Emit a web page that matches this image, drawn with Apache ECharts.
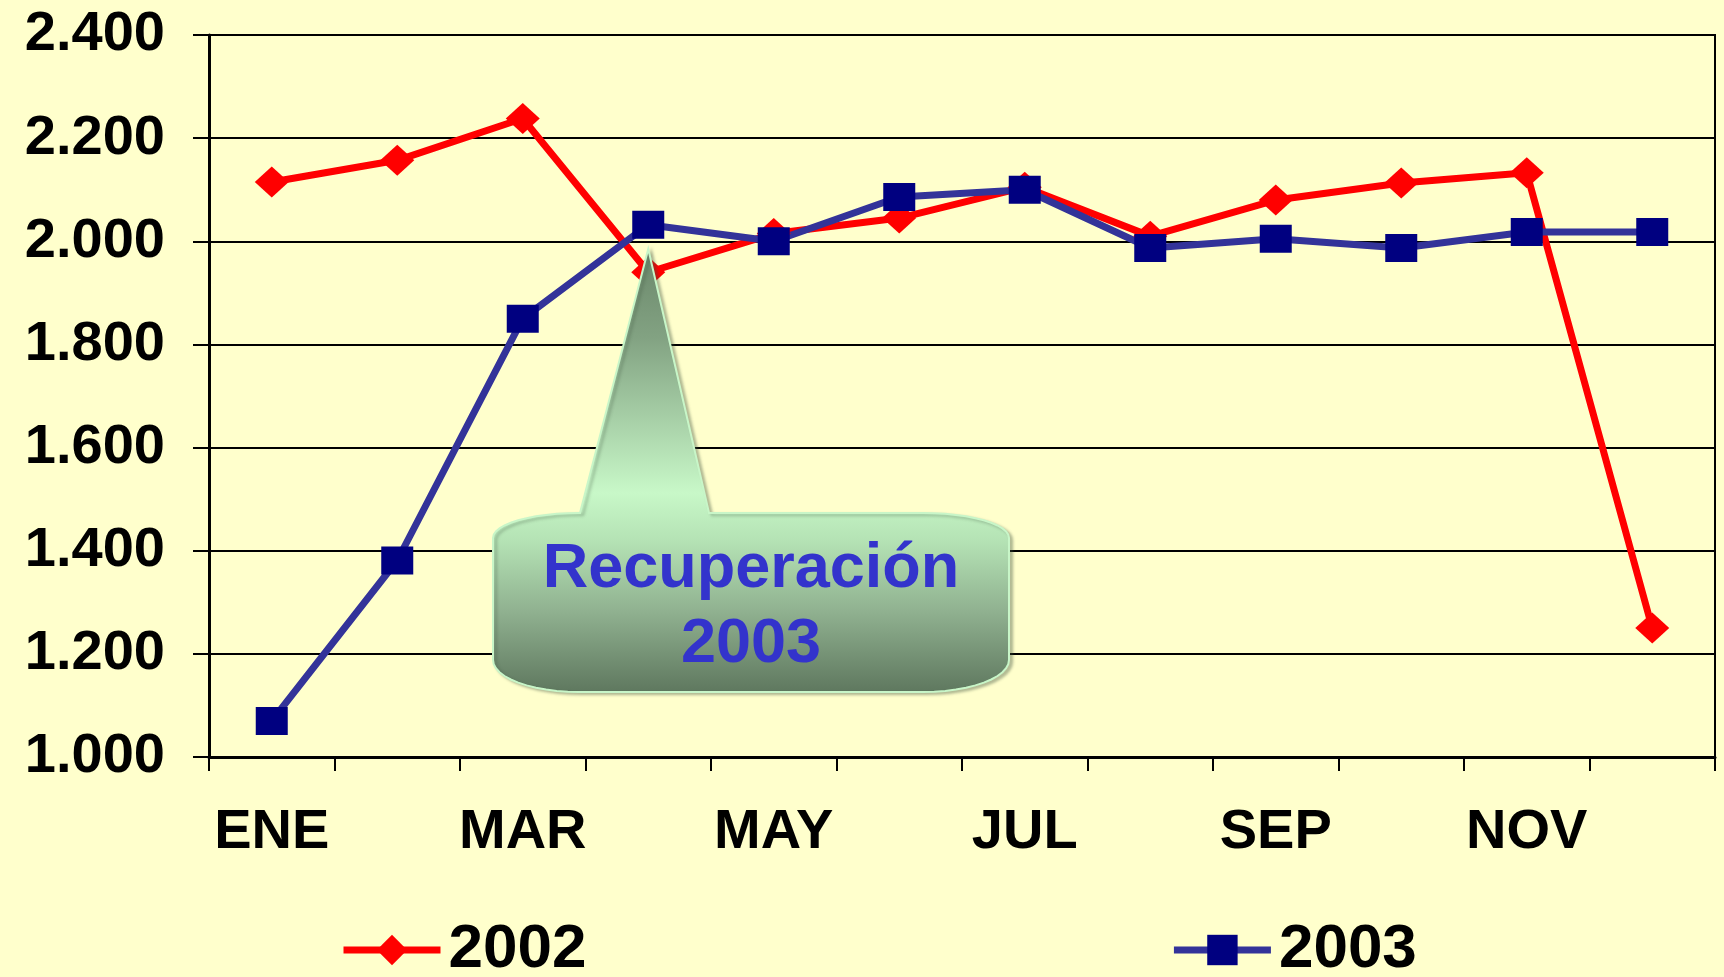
<!DOCTYPE html>
<html>
<head>
<meta charset="utf-8">
<script src="https://cdn.jsdelivr.net/npm/echarts@6/dist/echarts.min.js"></script>
<style>
  html, body { margin: 0; padding: 0; background: #FFFFCC; }
  #chart { width: 1724px; height: 977px; }
</style>
</head>
<body>
<div id="chart"></div>
<script>
const months = ['ENE', 'FEB', 'MAR', 'ABR', 'MAY', 'JUN', 'JUL', 'AGO', 'SEP', 'OCT', 'NOV', 'DIC']
const values2002 = [2115, 2157, 2238, 1940, 2015, 2045, 2105, 2010, 2080, 2113, 2133, 1250]
const values2003 = [1070, 1381, 1850, 2032, 2000, 2086, 2100, 1987, 2005, 1987, 2018, 2018]
const yTicks = { min: 1000, max: 2400, step: 200 }
const calloutText = 'Recuperación\n2003'

const font = '"Liberation Sans", Arial, sans-serif'
const chart = echarts.init(document.getElementById('chart'))

chart.setOption({
  backgroundColor: '#FFFFCC',
  animation: false,
  grid: {
    left: 209, right: 9, top: 35, bottom: 220,
    show: true, borderColor: '#000', borderWidth: 2, backgroundColor: 'transparent'
  },
  legend: {
    left: 335, top: 914,
    itemWidth: 97, itemHeight: 38, itemGap: 584,
    lineStyle: { width: 7 },
    textStyle: {
      fontFamily: font, fontWeight: 'bold', fontSize: 62, color: '#000',
      padding: [0, 0, 0, 3]
    },
    data: ['2002', '2003']
  },
  xAxis: {
    type: 'category',
    data: months,
    boundaryGap: true,
    axisLine: { lineStyle: { color: '#000', width: 3 } },
    axisTick: { show: true, interval: 0, length: 14, lineStyle: { color: '#000', width: 2 } },
    axisLabel: {
      interval: 1, margin: 48, color: '#000',
      fontFamily: font, fontWeight: 'bold', fontSize: 56
    },
    splitLine: { show: false }
  },
  yAxis: {
    type: 'value',
    min: yTicks.min, max: yTicks.max, interval: yTicks.step,
    axisLine: { show: true, lineStyle: { color: '#000', width: 3 } },
    axisTick: { show: true, length: 16, lineStyle: { color: '#000', width: 2 } },
    axisLabel: {
      margin: 44, color: '#000',
      fontFamily: font, fontWeight: 'bold', fontSize: 56,
      formatter: v => String(v).replace(/^(\d)(\d{3})$/, '$1.$2')
    },
    splitLine: { show: true, lineStyle: { color: '#000', width: 2 } }
  },
  series: [
    {
      name: '2002',
      type: 'line',
      data: values2002,
      symbol: 'diamond',
      symbolSize: [34, 31],
      lineStyle: { color: '#FF0000', width: 7 },
      itemStyle: { color: '#FF0000' }
    },
    {
      name: '2003',
      type: 'line',
      data: values2003,
      symbol: 'rect',
      symbolSize: [32, 28],
      lineStyle: { color: '#333399', width: 7 },
      itemStyle: { color: '#000080' }
    }
  ]
})

// callout "Recuperación 2003": one shape, pointer + box with elliptical corners
const apex = chart.convertToPixel({ seriesIndex: 0 }, [3, 1985])
const box = { x0: 493, x1: 1009, y0: 513, y1: 692, rx: 86, ryTop: 25, ryBot: 32 }

function corner(cx, cy, rx, ry, a0, a1) {
  const pts = []
  for (let i = 0; i <= 12; i++) {
    const a = a0 + (a1 - a0) * i / 12
    pts.push([cx + rx * Math.cos(a), cy + ry * Math.sin(a)])
  }
  return pts
}
const b = box
const outline = [
  [apex[0], apex[1]],
  [709, b.y0],
  ...corner(b.x1 - b.rx, b.y0 + b.ryTop, b.rx, b.ryTop, -Math.PI / 2, 0),
  ...corner(b.x1 - b.rx, b.y1 - b.ryBot, b.rx, b.ryBot, 0, Math.PI / 2),
  ...corner(b.x0 + b.rx, b.y1 - b.ryBot, b.rx, b.ryBot, Math.PI / 2, Math.PI),
  ...corner(b.x0 + b.rx, b.y0 + b.ryTop, b.rx, b.ryTop, Math.PI, Math.PI * 1.5),
  [580, b.y0]
]

chart.setOption({
  graphic: [
    {
      type: 'polygon', z: 100,
      shape: { points: outline },
      style: {
        fill: new echarts.graphic.LinearGradient(0, 0, 0, 1, [
          { offset: 0, color: '#6a866a' },
          { offset: 0.2, color: '#82a282' },
          { offset: 0.55, color: '#c8f8c8' },
          { offset: 0.66, color: '#b4e2b4' },
          { offset: 0.82, color: '#8fb08f' },
          { offset: 1, color: '#5e775e' }
        ]),
        stroke: '#c8f6c8', lineWidth: 2,
        shadowColor: 'rgba(60,80,60,0.35)', shadowBlur: 3, shadowOffsetX: 3, shadowOffsetY: 2
      }
    },
    {
      type: 'text', z: 103,
      x: 751, y: 607,
      style: {
        text: calloutText,
        fill: '#3333CC',
        font: 'bold 63px ' + font,
        lineHeight: 75,
        align: 'center', verticalAlign: 'middle'
      }
    }
  ]
})
</script>
</body>
</html>
